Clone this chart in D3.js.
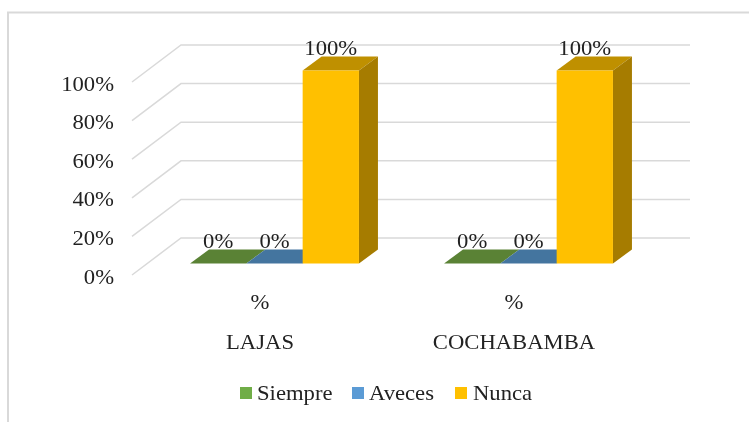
<!DOCTYPE html>
<html>
<head>
<meta charset="utf-8">
<script src="https://cdn.jsdelivr.net/npm/d3@7"></script>
<style>
body { margin: 0; background: #fff; }
svg { display: block; filter: blur(0.4px); }
text { font-family: "Liberation Serif", serif; fill: #222; }
</style>
</head>
<body>
<div id="chart"></div>
<script>
var categories = ["LAJAS", "COCHABAMBA"];
var seriesNames = ["Siempre", "Aveces", "Nunca"];
var siempre = [0, 0];
var aveces = [0, 0];
var nunca = [100, 100];
var yTicks = [0, 20, 40, 60, 80, 100];

var colors = ["#70ad47", "#5b9bd5", "#ffc000"];
var topColors = ["#5a8235", "#44759f", "#bf9000"];
var sideColors = ["#4d6f2d", "#3a6488", "#a67c00"];

var width = 749, height = 422;
var fontSize = 22;
var stretch = 1.03;

var svg = d3.select("#chart")
    .append("svg")
    .attr("width", width)
    .attr("height", height);

// chart frame, only top and left edges are in the crop
svg.append("path")
    .attr("d", "M8,422V12.5H749")
    .attr("fill", "none")
    .attr("stroke", "#d9d9d9")
    .attr("stroke-width", 2);

var x0 = d3.scaleBand()
    .domain(categories)
    .range([133, 641])
    .paddingInner(0.335)
    .paddingOuter(0.1675);

var x1 = d3.scaleBand()
    .domain(seriesNames)
    .range([0, x0.bandwidth()]);

// front edge of the floor
var y = d3.scaleLinear().domain([0, 100]).range([275, 82]);

// 3d offsets
var wallDx = 49, wallDy = -37;
var barDx = 14.5, barDy = -11.5;
var sideDx = 19, sideDy = -14;

// text is a bit wider than the font in the picture
function label(sel, px, py, anchor) {
    return sel.attr("transform", "translate(" + px + "," + py + ") scale(" + stretch + ",1)")
        .attr("text-anchor", anchor || "middle")
        .style("font-size", fontSize + "px");
}

// gridlines
var grid = svg.append("g");
yTicks.forEach(function(t) {
    grid.append("path")
        .attr("d", d3.line()([
            [x0.range()[0] - 1, y(t)],
            [x0.range()[0] - 1 + wallDx, y(t) + wallDy],
            [690, y(t) + wallDy]
        ]))
        .attr("fill", "none")
        .attr("stroke", "#d9d9d9")
        .attr("stroke-width", 1.5);
});

// y axis
var axis = svg.append("g")
    .attr("transform", "translate(114,0)")
    .call(d3.axisLeft(y).tickValues(yTicks).tickSize(0).tickPadding(0).tickFormat(function(d) { return d + "%"; }));
axis.select(".domain").remove();
axis.selectAll("text")
    .attr("x", null)
    .attr("dy", null)
    .attr("y", 8)
    .attr("text-anchor", "end")
    .attr("transform", "scale(" + stretch + ",1)")
    .style("font-size", fontSize + "px")
    .style("font-family", "'Liberation Serif', serif")
    .style("fill", "#222");

// bars, left to right so that the yellow one sits on top
var values = [siempre, aveces, nunca];
categories.forEach(function(cat, c) {
    var g = svg.append("g")
        .attr("transform", "translate(" + (x0(cat) + barDx) + "," + barDy + ")");
    seriesNames.forEach(function(name, s) {
        var v = values[s][c];
        var bx = x1(name), bw = x1.bandwidth();
        var yTop = y(v), yBase = y(0);

        g.append("polygon")
            .attr("fill", topColors[s])
            .attr("points", [
                [bx, yTop], [bx + bw, yTop],
                [bx + bw + sideDx, yTop + sideDy], [bx + sideDx, yTop + sideDy]
            ].join(" "));

        if (v > 0) {
            g.append("polygon")
                .attr("fill", sideColors[s])
                .attr("points", [
                    [bx + bw, yTop], [bx + bw + sideDx, yTop + sideDy],
                    [bx + bw + sideDx, yBase + sideDy], [bx + bw, yBase]
                ].join(" "));
            g.append("rect")
                .attr("x", bx)
                .attr("y", yTop)
                .attr("width", bw)
                .attr("height", yBase - yTop)
                .attr("fill", colors[s]);
        }

        label(g.append("text"), bx + bw / 2, yTop - 15.5).text(v + "%");
    });

    // category labels
    label(svg.append("text"), x0(cat) + x0.bandwidth() / 2, 309).text("%");
    label(svg.append("text"), x0(cat) + x0.bandwidth() / 2, 349).text(cat);
});

// legend
var legendX = [240, 352, 455];
var legendTextX = [257, 369, 473];
seriesNames.forEach(function(name, s) {
    svg.append("rect")
        .attr("x", legendX[s])
        .attr("y", 387)
        .attr("width", 12)
        .attr("height", 12)
        .attr("fill", colors[s]);
    label(svg.append("text"), legendTextX[s], 400, "start").text(name);
});
</script>
</body>
</html>
